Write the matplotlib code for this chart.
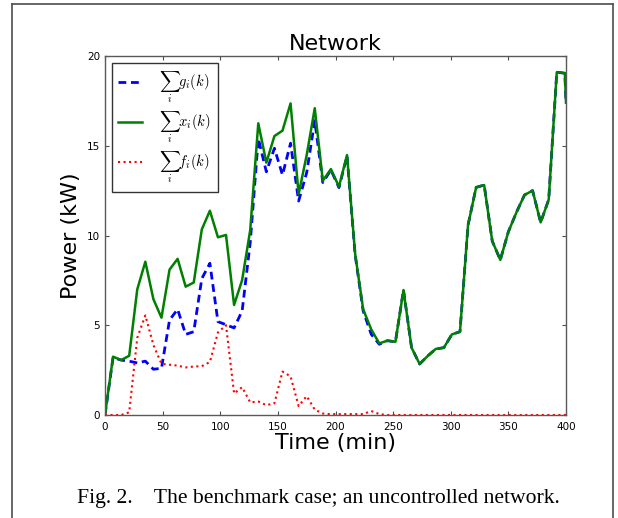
import matplotlib
matplotlib.use('Agg')
import matplotlib.pyplot as plt
from matplotlib.lines import Line2D

plt.rcParams['mathtext.fontset'] = 'cm'

# sample times (min), 7-min steps, last point at the right edge
times = [0, 7, 14, 21, 28, 35, 42, 49, 56, 63, 70, 77, 84, 91, 98, 105, 112, 119,
         126, 133, 140, 147, 154, 161, 168, 175, 182, 189, 196, 203, 210, 217, 224,
         231, 238, 245, 252, 259, 266, 273, 280, 287, 294, 301, 308, 315, 322, 329,
         336, 343, 350, 357, 364, 371, 378, 385, 392, 399, 400]

# sum_i x_i(k)
x_sum = [0.0, 3.25, 3.06, 3.3, 7.0, 8.54, 6.45, 5.42, 8.1, 8.7, 7.15, 7.38, 10.34,
         11.38, 9.9, 10.03, 6.13, 7.52, 10.3, 16.25, 14.06, 15.54, 15.84, 17.36,
         12.3, 14.48, 17.09, 13.05, 13.7, 12.72, 14.48, 9.0, 5.89, 4.77, 3.99, 4.14,
         4.08, 6.96, 3.75, 2.84, 3.29, 3.68, 3.75, 4.49, 4.64, 10.58, 12.68, 12.81,
         9.69, 8.64, 10.21, 11.29, 12.26, 12.5, 10.73, 12.0, 19.1, 19.04, 17.4]

# sum_i g_i(k)
g_sum = [0.0, 3.2, 3.06, 3.0, 2.9, 3.0, 2.55, 2.6, 5.29, 5.89, 4.49, 4.64, 7.6,
         8.45, 5.2, 5.03, 4.85, 5.8, 9.6, 15.4, 13.55, 14.86, 13.37, 15.14, 11.92,
         13.5, 16.4, 12.95, 13.65, 12.67, 14.43, 8.95, 5.8, 4.5, 3.94, 4.14,
         4.08, 6.96, 3.75, 2.84, 3.29, 3.68, 3.75, 4.49, 4.64, 10.58, 12.68, 12.81,
         9.69, 8.64, 10.21, 11.29, 12.26, 12.5, 10.73, 12.0, 19.1, 19.04, 17.4]

# sum_i f_i(k)
f_sum = [0.0, 0.0, 0.0, 0.15, 4.3, 5.55, 3.9, 2.85, 2.8, 2.75, 2.65, 2.7, 2.72,
         2.95, 4.6, 5.0, 1.2, 1.55, 0.7, 0.75, 0.55, 0.65, 2.42, 2.15, 0.5, 1.05,
         0.3, 0.08, 0.05, 0.05, 0.05, 0.05, 0.05, 0.22, 0.05, 0.0, 0.0, 0.0, 0.0,
         0.0, 0.0, 0.0, 0.0, 0.0, 0.0, 0.0, 0.0, 0.0, 0.0, 0.0, 0.0, 0.0, 0.0, 0.0,
         0.0, 0.0, 0.0, 0.0, 0.0]

W, H = 618, 518
fig = plt.figure(figsize=(W / 100, H / 100), dpi=100)
ax = fig.add_axes([105 / W, 1 - 415 / H, 461 / W, 359 / H])

ax.plot(times, g_sum, color='b', ls='--', lw=2, dashes=(2.8, 1.7), label=r'$\sum_i g_i(k)$')
ax.plot(times, x_sum, color='g', ls='-', lw=1.8, label=r'$\sum_i x_i(k)$')
ax.plot(times, f_sum, color='r', ls=':', lw=1.5, label=r'$\sum_i f_i(k)$')

ax.set_xlim(0, 400)
ax.set_ylim(0, 20)
ax.set_xticks(range(0, 401, 50))
ax.set_yticks([0, 5, 10, 15, 20])
ax.tick_params(direction='in', top=True, right=True, length=3, width=0.8,
               labelsize=7.5, color='0.3')
ax.tick_params(axis='x', pad=5)
for sp in ax.spines.values():
    sp.set_color('0.35')
    sp.set_linewidth(1.0)

ax.set_title('Network', fontsize=16, pad=4)
ax.set_xlabel('Time (min)', fontsize=16, labelpad=1)
ax.set_ylabel('Power (kW)', fontsize=16, labelpad=4)

leg = ax.legend(loc='upper left', fontsize=10.5, fancybox=False, framealpha=1,
                edgecolor='0.2', handlelength=1.6, labelspacing=0.32,
                borderpad=0.45, handletextpad=1.2, borderaxespad=0,
                bbox_to_anchor=(0.015, 0.98))
leg.get_frame().set_linewidth(1.0)

# page frame around the figure
fc = '0.3'
fig.add_artist(Line2D([12 / W, 12 / W], [0, 1 - 4 / H], color=fc, lw=1.2, transform=fig.transFigure))
fig.add_artist(Line2D([613 / W, 613 / W], [0, 1 - 4 / H], color=fc, lw=1.2, transform=fig.transFigure))
fig.add_artist(Line2D([12 / W, 613 / W], [1 - 4 / H, 1 - 4 / H], color=fc, lw=1.2, transform=fig.transFigure))

fig.text(318 / W, 1 - 503 / H, 'Fig. 2.    The benchmark case; an uncontrolled network.',
         ha='center', va='baseline', fontsize=15.6, family='Liberation Serif')

fig.savefig('out.png', dpi=100)
